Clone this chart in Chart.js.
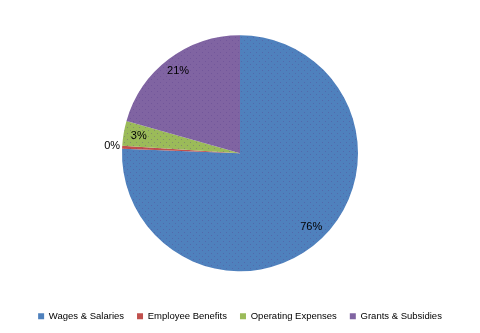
<!DOCTYPE html>
<html>
<head>
<meta charset="utf-8">
<script src="https://cdn.jsdelivr.net/npm/chart.js@4"></script>
<style>
  html, body { margin: 0; padding: 0; background: #fff; }
  #wrap { width: 480px; height: 333px; }
</style>
</head>
<body>
<div id="wrap"><canvas id="pieChart" width="480" height="333"></canvas></div>
<script>
// values (percent of total)
const categories = ['Wages & Salaries', 'Employee Benefits', 'Operating Expenses', 'Grants & Subsidies'];
const shares = [75.6, 0.4, 3.4, 20.6];
const labelsText = ['76%', '0%', '3%', '21%'];
const colors = ['#4f81bd', '#c0504d', '#9bbb59', '#8064a2'];

// small dotted fill, like the old office charts
function dotted(color) {
    const c = document.createElement('canvas');
    c.width = 6; c.height = 6;
    const g = c.getContext('2d');
    g.fillStyle = color;
    g.fillRect(0, 0, 6, 6);
    g.fillStyle = 'rgba(90,60,140,0.35)';
    g.fillRect(1, 1, 1, 1);
    g.fillRect(4, 4, 1, 1);
    return g.createPattern(c, 'repeat');
}

// percent labels: inside for big slices, just outside for the tiny one
const sliceLabels = {
    id: 'sliceLabels',
    afterDatasetsDraw(chart) {
        const ctx = chart.ctx;
        const meta = chart.getDatasetMeta(0);
        ctx.save();
        ctx.font = '11px "Liberation Sans", Arial, sans-serif';
        ctx.fillStyle = '#000';
        ctx.textBaseline = 'middle';
        meta.data.forEach((arc, i) => {
            const mid = (arc.startAngle + arc.endAngle) / 2;
            const r = arc.outerRadius;
            if (shares[i] < 1) {
                ctx.textAlign = 'right';
                ctx.fillText(labelsText[i], arc.x + Math.cos(mid) * (r + 2), arc.y + Math.sin(mid) * (r + 2) - 1);
            } else {
                ctx.textAlign = 'center';
                ctx.fillText(labelsText[i], arc.x + Math.cos(mid) * r * 0.87, arc.y + Math.sin(mid) * r * 0.87);
            }
        });
        ctx.restore();
    }
};

const ctx = document.getElementById('pieChart').getContext('2d');
const myChart = new Chart(ctx, {
    type: 'pie',
    data: {
        labels: categories,
        datasets: [{
            data: shares,
            backgroundColor: colors.map(dotted),
            borderWidth: 0,
            radius: 118
        }]
    },
    options: {
        responsive: false,
        animation: false,
        layout: {
            padding: { top: 8, bottom: 2, left: 0, right: 0 }
        },
        plugins: {
            legend: {
                display: true,
                position: 'bottom',
                labels: {
                    boxWidth: 6,
                    boxHeight: 6,
                    padding: 13,
                    color: '#000',
                    font: { family: '"Liberation Sans", Arial, sans-serif', size: 9.5 },
                    generateLabels(chart) {
                        return categories.map((t, i) => ({
                            text: t,
                            fillStyle: colors[i],
                            strokeStyle: colors[i],
                            lineWidth: 0,
                            index: i
                        }));
                    }
                }
            },
            tooltip: { enabled: false }
        }
    },
    plugins: [sliceLabels]
});
</script>
</body>
</html>
